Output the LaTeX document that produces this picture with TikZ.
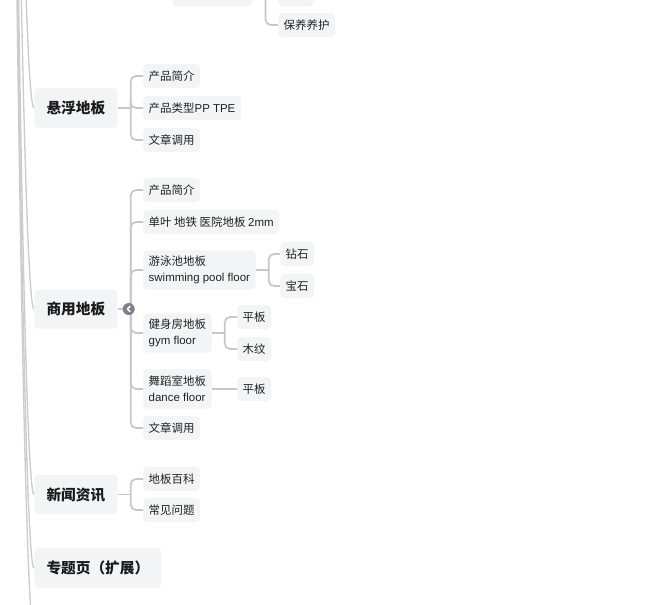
\documentclass[tikz,border=0pt]{standalone}
\usepackage{fontspec}
\setmainfont{Liberation Sans}
\newfontfamily\zh{Noto Sans CJK SC}
\newfontfamily\en{Liberation Sans}
\usepackage{tikz}
\usetikzlibrary{calc}
\definecolor{INK}{HTML}{1A1A1A}
\definecolor{SUBINK}{HTML}{222222}
\definecolor{BOX}{HTML}{F3F4F6}
\definecolor{LINK}{HTML}{C8C8C8}
\definecolor{TRUNK}{HTML}{CCCCCC}
\definecolor{KNOB}{HTML}{7E8189}

\begin{document}
\begin{tikzpicture}[
  x=0.75pt, y=-0.75pt,
  topic/.style={fill=BOX, rounded corners=3pt, anchor=west, text=INK, font=\zh\fontsize{11pt}{13pt}\selectfont\bfseries, minimum height=29.5pt, inner xsep=9.2pt, inner ysep=2pt},
  sub/.style={fill=BOX, rounded corners=3pt, anchor=west, text=SUBINK, font=\zh\fontsize{8.6pt}{12pt}\selectfont, minimum height=18pt, inner xsep=4.1pt, inner ysep=2pt, align=left},
  twoline/.style={sub, minimum height=29.5pt},
  link/.style={draw=LINK, line width=1.3pt, rounded corners=4pt},
  trunk/.style={draw=TRUNK, line width=1pt},
  sweep/.style={to path={.. controls ($(\tikztostart)!2/3!(\tikztotarget)+(-12,0)$) and ($(\tikztotarget)+(-12,0)$) .. (\tikztotarget)}},
  knob/.style={circle, fill=KNOB, minimum size=9pt, inner sep=0pt}
]

\useasboundingbox (0,0) rectangle (652,604);
\fill[white] (0,0) rectangle (652,604);
\clip (0,0) rectangle (652,604);

% first level
\node[topic] (xf) at (34,108) {悬浮地板};
\node[topic] (sy) at (34,309) {商用地板};
\node[topic] (xw) at (34,494.5) {新闻资讯};
\node[topic] (zt) at (34,568) {专题页（扩展）};

% branch cut off at the top
\node[sub, minimum width=60pt] (hu) at (172,-6) {};
\node[sub, minimum width=26.25pt] (hu1) at (278,-6) {};
\node[sub] (hu2) at (278,25) {保养养护};

% 悬浮地板
\node[sub] (xf1) at (143,76) {产品简介};
\node[sub] (xf2) at (143,108) {产品类型{\en PP TPE}};
\node[sub] (xf3) at (143,140) {文章调用};

% 商用地板
\node[sub] (sy1) at (143,190) {产品简介};
\node[sub] (sy2) at (143,222) {单叶 地铁 医院地板 {\en 2mm}};
\node[twoline] (sy3) at (143,270) {游泳池地板\\{\en swimming pool floor}};
\node[twoline] (sy4) at (143,333) {健身房地板\\{\en gym floor}};
\node[twoline] (sy5) at (143,389) {舞蹈室地板\\{\en dance floor}};
\node[sub] (sy6) at (143,428) {文章调用};
\node[sub] (sy31) at (280,254) {钻石};
\node[sub] (sy32) at (280,286) {宝石};
\node[sub] (sy41) at (237,317) {平板};
\node[sub] (sy42) at (237,349) {木纹};
\node[sub] (sy51) at (237,389) {平板};

% 新闻资讯
\node[sub] (xw1) at (143,479) {地板百科};
\node[sub] (xw2) at (143,510) {常见问题};

% lines from the root, far above
\coordinate (root) at (-2,-2200);
\coordinate (more) at (34,632);
\draw[trunk] (root) to[sweep] (xf.west);
\draw[trunk] (root) to[sweep] (sy.west);
\draw[trunk] (root) to[sweep] (xw.west);
\draw[trunk] (root) to[sweep] (zt.west);
\draw[trunk] (root) to[sweep] (more);

% brackets
\draw[link] (hu.east) -- ++(13,0) coordinate (huj);
\draw[link] (huj) |- (hu1.west);
\draw[link] (huj) |- (hu2.west);

\draw[link] (xf.east) -- ++(13,0) coordinate (xfj);
\draw[link] (xfj) |- (xf1.west);
\draw[link] (xfj) |- (xf2.west);
\draw[link] (xfj) |- (xf3.west);

\draw[link] (sy.east) -- ++(13,0) coordinate (syj);
\draw[link] (syj) |- (sy1.west);
\draw[link] (syj) |- (sy2.west);
\draw[link] (syj) |- (sy3.west);
\draw[link] (syj) |- (sy4.west);
\draw[link] (syj) |- (sy5.west);
\draw[link] (syj) |- (sy6.west);

\draw[link] (sy3.east) -- ++(13,0) coordinate (sy3j);
\draw[link] (sy3j) |- (sy31.west);
\draw[link] (sy3j) |- (sy32.west);
\draw[link] (sy4.east) -- ++(13,0) coordinate (sy4j);
\draw[link] (sy4j) |- (sy41.west);
\draw[link] (sy4j) |- (sy42.west);
\draw[link] (sy5.east) -- (sy51.west);

\draw[link] (xw.east) -- ++(13,0) coordinate (xwj);
\draw[link] (xwj) |- (xw1.west);
\draw[link] (xwj) |- (xw2.west);

% collapse knob
\node[knob] (fold) at ($(syj)+(-2,0)$) {};
\draw[white, line width=1.1pt, line cap=round, line join=round] ($(fold.center)+(1.3,-2.6)$) -- ($(fold.center)+(-1.3,0)$) -- ($(fold.center)+(1.3,2.6)$);

\end{tikzpicture}
\end{document}
